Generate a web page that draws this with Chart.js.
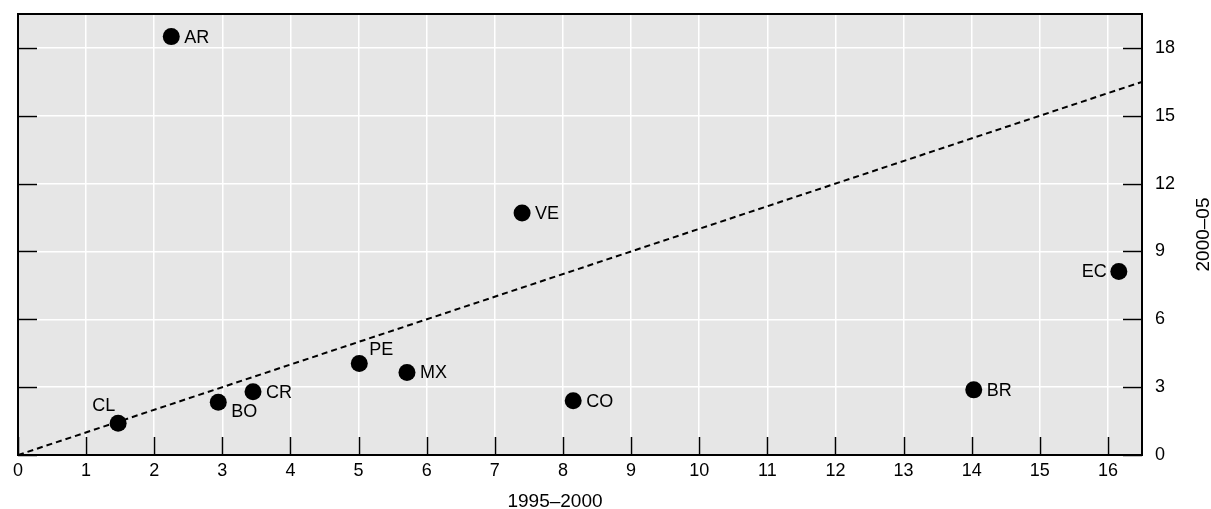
<!DOCTYPE html>
<html>
<head>
<meta charset="utf-8">
<script src="https://cdn.jsdelivr.net/npm/chart.js@4"></script>
<style>
  html, body { margin: 0; padding: 0; background: #fff; }
  #wrap { width: 1211px; height: 509px; }
</style>
</head>
<body>
<div id="wrap"><canvas id="chart" width="1211" height="509"></canvas></div>
<script>
// Werte
const countries = ['AR', 'CL', 'BO', 'CR', 'PE', 'MX', 'CO', 'VE', 'BR', 'EC'];
const growth9500 = [2.25, 1.47, 2.94, 3.45, 5.01, 5.71, 8.15, 7.40, 14.03, 16.16];
const growth0005 = [18.5, 1.40, 2.33, 2.80, 4.05, 3.65, 2.40, 10.7, 2.88, 8.11];
const xTicks = [0, 1, 2, 3, 4, 5, 6, 7, 8, 9, 10, 11, 12, 13, 14, 15, 16];
const yTicks = [0, 3, 6, 9, 12, 15, 18];
const diagonal = [0, 16.5];
const xTitle = '1995–2000';
const yTitle = '2000–05';

const FONT = '"Liberation Sans", Arial, sans-serif';

// Lage der Beschriftung relativ zum Punkt
const labelPlace = {
    CL: { dx: -3, dy: -17, align: 'right' },
    BO: { dx: 13, dy: 10, align: 'left' },
    PE: { dx: 10, dy: -13, align: 'left' },
    EC: { dx: -12, dy: 0, align: 'right' }
};

const framePlugin = {
    id: 'frame',
    beforeDraw(chart) {
        const { ctx, chartArea: a } = chart;
        ctx.save();
        ctx.fillStyle = '#e6e6e6';
        ctx.fillRect(a.left, a.top, a.right - a.left, a.bottom - a.top);
        ctx.restore();
    },
    afterDraw(chart) {
        const { ctx, chartArea: a, scales } = chart;
        ctx.save();
        ctx.strokeStyle = '#000';
        ctx.lineWidth = 1.5;
        // Ticks nach innen
        ctx.beginPath();
        xTicks.forEach(v => {
            const px = Math.round(scales.x.getPixelForValue(v)) + 0.5;
            ctx.moveTo(px, a.bottom);
            ctx.lineTo(px, a.bottom - 18);
        });
        yTicks.forEach(v => {
            const py = Math.round(scales.y.getPixelForValue(v)) + 0.5;
            ctx.moveTo(a.right, py);
            ctx.lineTo(a.right - 19, py);
            ctx.moveTo(a.left, py);
            ctx.lineTo(a.left + 19, py);
        });
        ctx.stroke();
        ctx.lineWidth = 2;
        ctx.strokeRect(a.left, a.top, a.right - a.left, a.bottom - a.top);

        // Punktbeschriftungen
        ctx.fillStyle = '#000';
        ctx.font = '18px ' + FONT;
        ctx.textBaseline = 'middle';
        const meta = chart.getDatasetMeta(1);
        meta.data.forEach((pt, i) => {
            const name = countries[i];
            const p = labelPlace[name] || { dx: 13, dy: 1, align: 'left' };
            ctx.textAlign = p.align;
            ctx.fillText(name, pt.x + p.dx, pt.y + p.dy);
        });

        // Achsentitel
        ctx.font = '19px ' + FONT;
        ctx.textAlign = 'center';
        ctx.fillText(xTitle, 555, 502);
        ctx.translate(1204, (a.top + a.bottom) / 2);
        ctx.rotate(-Math.PI / 2);
        ctx.fillText(yTitle, 0, 0);
        ctx.restore();
    }
};

new Chart(document.getElementById('chart'), {
    type: 'scatter',
    data: {
        datasets: [{
            type: 'line',
            data: diagonal.map(v => ({ x: v, y: v })),
            borderColor: '#000',
            borderWidth: 2,
            borderDash: [6, 4],
            pointRadius: 0,
            fill: false,
            order: 2
        }, {
            data: countries.map((c, i) => ({ x: growth9500[i], y: growth0005[i] })),
            backgroundColor: '#000',
            borderColor: '#000',
            borderWidth: 0,
            pointRadius: 8.5,
            pointHoverRadius: 8.5,
            order: 1
        }]
    },
    options: {
        responsive: false,
        animation: false,
        layout: { padding: { left: 18, top: 14, right: 0, bottom: 0 } },
        plugins: {
            legend: { display: false },
            tooltip: { enabled: false }
        },
        scales: {
            x: {
                type: 'linear',
                min: 0,
                max: 16.5,
                afterBuildTicks: s => { s.ticks = xTicks.map(v => ({ value: v })); },
                afterFit: s => { s.height = 54; s.paddingLeft = 0; s.paddingRight = 0; },
                grid: { color: '#ffffff', lineWidth: 1.5, drawTicks: false },
                border: { display: false },
                ticks: {
                    padding: 5,
                    color: '#000',
                    maxRotation: 0,
                    autoSkip: false,
                    font: { family: FONT, size: 18 }
                }
            },
            y: {
                type: 'linear',
                position: 'right',
                min: 0,
                max: 19.5,
                afterBuildTicks: s => { s.ticks = yTicks.map(v => ({ value: v })); },
                afterFit: s => { s.width = 69; s.paddingTop = 0; s.paddingBottom = 0; },
                grid: { color: '#ffffff', lineWidth: 1.5, drawTicks: false },
                border: { display: false },
                ticks: {
                    padding: 13,
                    color: '#000',
                    autoSkip: false,
                    font: { family: FONT, size: 18 }
                }
            }
        }
    },
    plugins: [framePlugin]
});
</script>
</body>
</html>
